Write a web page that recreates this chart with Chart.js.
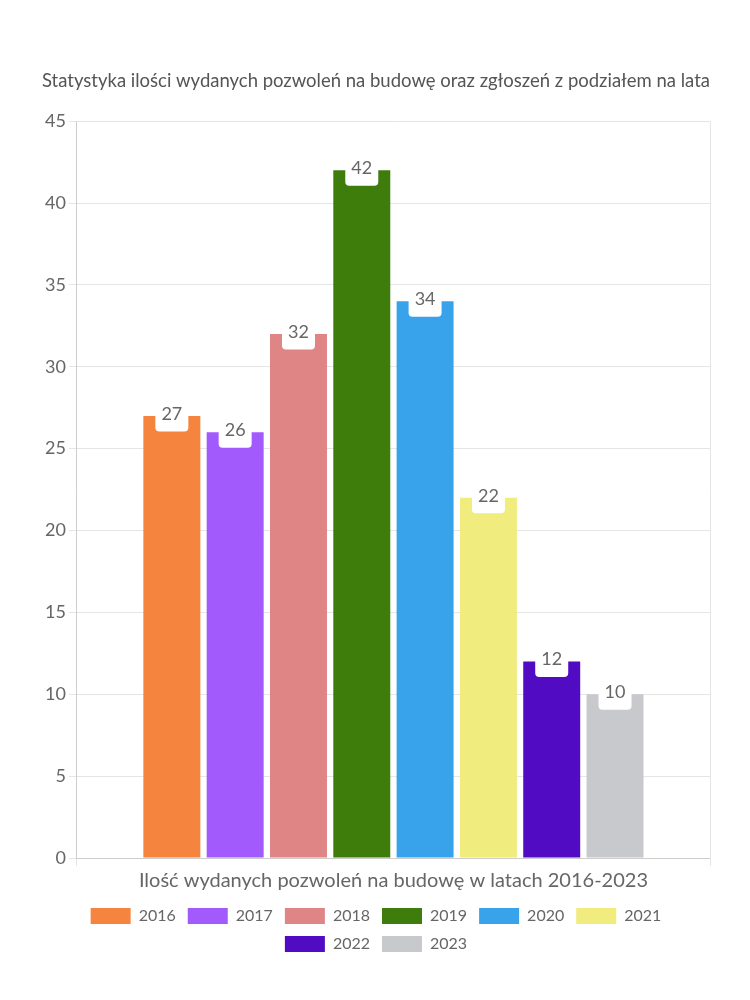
<!DOCTYPE html>
<html>
<head>
<meta charset="utf-8">
<script src="https://cdn.jsdelivr.net/npm/chart.js@4/dist/chart.umd.min.js"></script>
<style>
  body { margin: 0; background: #fff; }
  #wrap { width: 750px; height: 1000px; }
</style>
</head>
<body>
<div id="wrap"><canvas id="chart"></canvas></div>
<script>
const categories = ['Ilość wydanych pozwoleń na budowę w latach 2016-2023'];
const years = ['2016', '2017', '2018', '2019', '2020', '2021', '2022', '2023'];
const values = [27, 26, 32, 42, 34, 22, 12, 10];
const colors = ['#F5843F', '#A35AFD', '#E08586', '#3E7C0C', '#38A3EA', '#F0EC7E', '#510BC2', '#C8C9CC'];

// white label box sitting on the top edge of every bar
const valueLabels = {
    id: 'valueLabels',
    afterDatasetsDraw(chart) {
        const ctx = chart.ctx;
        ctx.save();
        chart.data.datasets.forEach((ds, i) => {
            const meta = chart.getDatasetMeta(i);
            meta.data.forEach((bar, j) => {
                const w = 33, h = 31;
                ctx.fillStyle = '#fff';
                ctx.beginPath();
                ctx.roundRect(bar.x - w / 2, bar.y - h / 2, w, h, 4);
                ctx.fill();
                ctx.fillStyle = '#666';
                ctx.font = '18px Lato';
                ctx.textAlign = 'center';
                ctx.textBaseline = 'middle';
                ctx.fillText(ds.data[j], bar.x, bar.y - 2);
            });
        });
        ctx.restore();
    }
};

new Chart(document.getElementById('chart'), {
    type: 'bar',
    data: {
        labels: categories,
        datasets: years.map((y, i) => ({
            label: y,
            data: [values[i]],
            backgroundColor: colors[i]
        }))
    },
    options: {
        responsive: true,
        maintainAspectRatio: false,
        animation: false,
        layout: { padding: { top: 70, left: 42, right: 40, bottom: 38 } },
        plugins: {
            title: {
                display: true,
                text: 'Statystyka ilości wydanych pozwoleń na budowę oraz zgłoszeń z podziałem na lata',
                color: '#555',
                font: { family: 'Lato', size: 18.5, weight: 'normal' },
                padding: { top: 0, bottom: 29 }
            },
            legend: {
                position: 'bottom',
                labels: {
                    color: '#666',
                    font: { family: 'Lato', size: 16 },
                    boxWidth: 40,
                    boxHeight: 16,
                    padding: 12
                }
            },
            tooltip: { enabled: false }
        },
        scales: {
            x: {
                grid: { color: '#e5e5e5', offset: true, tickLength: 8 },
                ticks: { color: '#666', padding: 5, font: { family: 'Lato', size: 20, lineHeight: 1 } }
            },
            y: {
                min: 0,
                max: 45,
                ticks: { stepSize: 5, color: '#666', font: { family: 'Lato', size: 18 } },
                grid: { color: '#e5e5e5', tickLength: 8 }
            }
        }
    },
    plugins: [valueLabels]
});
</script>
</body>
</html>
